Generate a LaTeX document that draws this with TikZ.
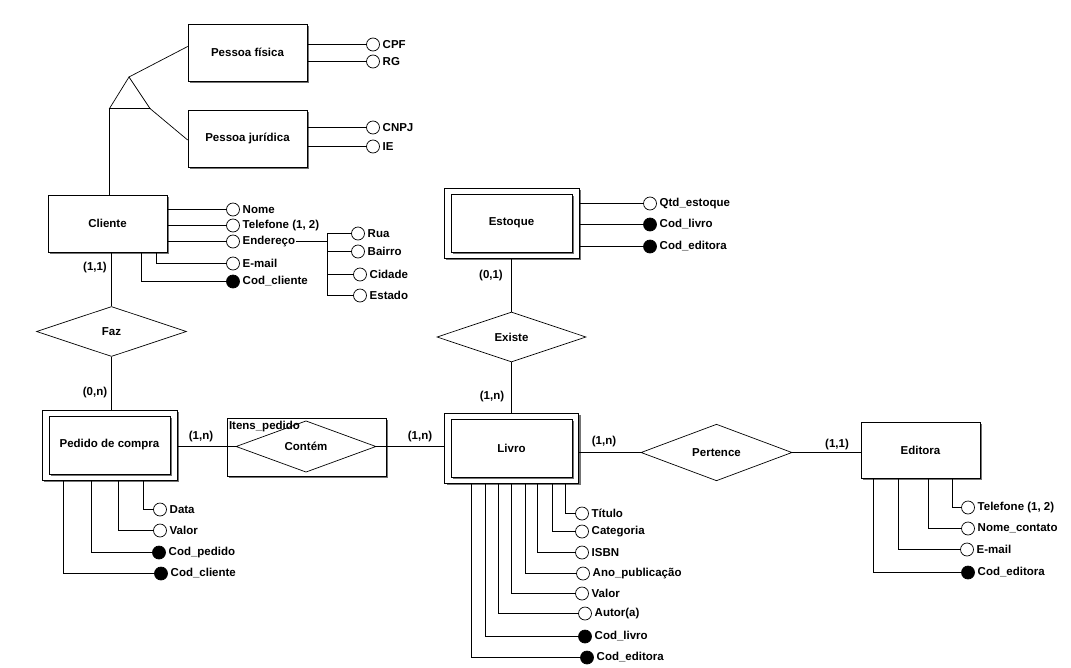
\documentclass[tikz,border=0pt]{standalone}
\usepackage{fontspec}
\setmainfont{Liberation Sans}
\usetikzlibrary{shapes.geometric,shadows}

\begin{document}
\begin{tikzpicture}[x=1pt,y=-1pt,line width=0.7pt]
\tikzstyle{every node}=[font=\fontsize{11.5}{13}\selectfont\bfseries, inner sep=1pt]
\tikzstyle{every label}=[label distance=1.5pt]
\tikzstyle{shade}=[general shadow={fill=black!55, shadow xshift=2pt, shadow yshift=-2pt}]
\tikzstyle{ent}=[draw, fill=white, shade, minimum width=119pt, minimum height=57pt]
\tikzstyle{weakout}=[draw, fill=white, shade, minimum width=135pt, minimum height=70pt]
\tikzstyle{weakin}=[draw, fill=white, shade, minimum width=121pt, minimum height=58pt]
\tikzstyle{rel}=[diamond, draw, fill=white, inner sep=0pt, minimum width=150pt, minimum height=50pt]
\tikzstyle{attr}=[circle, draw, fill=white, inner sep=0pt, minimum size=13pt]
\tikzstyle{key}=[attr, fill=black]
\useasboundingbox (0,0) rectangle (1071,667);

% entidades
\draw (247.5,52.5) node (pfis) [ent] {Pessoa física};
\draw (247.5,138.5) node (pjur) [ent] {Pessoa jurídica};
\draw (107.5,223.5) node (cliente) [ent] {Cliente};
\draw (920.5,450) node (editora) [ent, minimum height=56pt] {Editora};
\draw (109.5,445) node (pedido) [weakout] {};
\draw (pedido) node (pedidoin) [weakin] {Pedido de compra};
\draw (511.5,223) node (estoque) [weakout] {};
\draw (estoque) node (estoquein) [weakin] {Estoque};
\draw (511.5,448) node (livro) [weakout, minimum width=134pt] {};
\draw (livro) node (livroin) [weakin] {Livro};

% especializacao
\coordinate (apex) at (129,77);
\coordinate (baseL) at (109.5,108.5);
\coordinate (baseR) at (150,108.5);
\draw (apex) -- (baseL) -- (baseR) -- cycle;
\draw (apex) -- ([yshift=6pt]pfis.west);
\draw (baseR) -- ([yshift=-1.5pt]pjur.west);
\draw (baseL) -- (baseL |- cliente.north);

% relacionamentos
\draw (111.5,331.5) node (faz) [rel] {Faz};
\draw (511.5,337) node (existe) [rel, minimum width=149pt] {Existe};
\draw (716.5,452.5) node (pertence) [rel, minimum width=151pt] {Pertence};
\draw (306.5,447) node (itens) [draw, fill=white, shade, minimum width=159pt, minimum height=58pt] {};
\draw (306,446.5) node (contem) [rel, minimum width=140pt, minimum height=40pt] {Contém};
\draw ([xshift=1pt,yshift=-2pt]itens.north west) node (itenslbl) [anchor=north west] {Itens\_pedido};

\draw (cliente.south -| faz) -- (faz.north);
\draw (faz.south) -- (faz.south |- pedido.north);
\draw (pedido.east |- contem) -- (contem.west);
\draw (contem.east) -- (livro.west |- contem);
\draw (estoque.south) -- (existe.north);
\draw (existe.south) -- (existe.south |- livro.north);
\draw (livro.east |- pertence) -- (pertence.west);
\draw (pertence.east) -- (editora.west |- pertence);

% cardinalidades
\draw (95,268) node (c1) {(1,1)};
\draw (95,393) node (c2) {(0,n)};
\draw (201,437) node (c3) {(1,n)};
\draw (420,437) node (c4) {(1,n)};
\draw (491,276) node (c5) {(0,1)};
\draw (492,397) node (c6) {(1,n)};
\draw (604,442) node (c7) {(1,n)};
\draw (837,445) node (c8) {(1,1)};

% atributos
\draw (373,44.5) node (cpf) [attr, label=right:CPF] {};
\draw (373,61.5) node (rg) [attr, label=right:RG] {};
\draw (373,127.5) node (cnpj) [attr, label=right:CNPJ] {};
\draw (373,146.5) node (ie) [attr, label=right:IE] {};
\draw (pfis.east |- cpf) -- (cpf);
\draw (pfis.east |- rg) -- (rg);
\draw (pjur.east |- cnpj) -- (cnpj);
\draw (pjur.east |- ie) -- (ie);

\draw (233,209.5) node (nome) [attr, label=right:Nome] {};
\draw (233,225.5) node (tel) [attr, label=right:{Telefone (1, 2)}] {};
\draw (233,241.5) node (ender) [attr, label={[name=endertxt]right:Endereço}] {};
\draw (233,263.5) node (email) [attr, label=right:E-mail] {};
\draw (233,281.5) node (codcli) [key, label=right:Cod\_cliente] {};
\draw (cliente.east |- nome) -- (nome);
\draw (cliente.east |- tel) -- (tel);
\draw (cliente.east |- ender) -- (ender);
\draw ([xshift=48.5pt]cliente.south) |- (email);
\draw ([xshift=33.5pt]cliente.south) |- (codcli);

\coordinate (endbr) at (327.5,241.5);
\draw (358,233.5) node (rua) [attr, label=right:Rua] {};
\draw (358,251.5) node (bairro) [attr, label=right:Bairro] {};
\draw (360,274.5) node (cidade) [attr, label=right:Cidade] {};
\draw (360,295.5) node (estado) [attr, label=right:Estado] {};
\draw (endertxt.east) -- (endbr);
\draw (rua) -| (endbr |- estado) -- (estado);
\draw (bairro) -- (bairro -| endbr);
\draw (cidade) -- (cidade -| endbr);

\draw (160,509.5) node (data) [attr, label=right:Data] {};
\draw (160,530.5) node (valor) [attr, label=right:Valor] {};
\draw (159,552.5) node (codped) [key, label=right:Cod\_pedido] {};
\draw (161,573.5) node (pedcli) [key, label=right:Cod\_cliente] {};
\draw ([xshift=33.5pt]pedido.south) |- (data);
\draw ([xshift=8.5pt]pedido.south) |- (valor);
\draw ([xshift=-18.5pt]pedido.south) |- (codped);
\draw ([xshift=-46.5pt]pedido.south) |- (pedcli);

\draw (650,203.5) node (qtd) [attr, label=right:Qtd\_estoque] {};
\draw (650,224.5) node (estliv) [key, label=right:Cod\_livro] {};
\draw (650,246.5) node (estedi) [key, label=right:Cod\_editora] {};
\draw (estoque.east |- qtd) -- (qtd);
\draw (estoque.east |- estliv) -- (estliv);
\draw (estoque.east |- estedi) -- (estedi);

\draw (582,513.5) node (titulo) [attr, label=right:Título] {};
\draw (582,531.5) node (categ) [attr, label=right:Categoria] {};
\draw (582,552.5) node (isbn) [attr, label=right:ISBN] {};
\draw (583,573.5) node (ano) [attr, label=right:Ano\_publicação] {};
\draw (582,593.5) node (preco) [attr, label=right:Valor] {};
\draw (585,613.5) node (autor) [attr, label=right:Autor(a)] {};
\draw (585,636.5) node (codliv) [key, label=right:Cod\_livro] {};
\draw (587,657.5) node (livedi) [key, label=right:Cod\_editora] {};
\draw ([xshift=54pt]livro.south) |- (titulo);
\draw ([xshift=41pt]livro.south) |- (categ);
\draw ([xshift=26pt]livro.south) |- (isbn);
\draw ([xshift=14pt]livro.south) |- (ano);
\draw (livro.south) |- (preco);
\draw ([xshift=-13pt]livro.south) |- (autor);
\draw ([xshift=-26pt]livro.south) |- (codliv);
\draw ([xshift=-40pt]livro.south) |- (livedi);

\draw (968,507.5) node (edtel) [attr, label=right:{Telefone (1, 2)}] {};
\draw (968,528.5) node (contato) [attr, label=right:Nome\_contato] {};
\draw (967,549.5) node (edmail) [attr, label=right:E-mail] {};
\draw (968,572.5) node (codedi) [key, label=right:Cod\_editora] {};
\draw ([xshift=31.5pt]editora.south) |- (edtel);
\draw ([xshift=7.5pt]editora.south) |- (contato);
\draw ([xshift=-22.5pt]editora.south) |- (edmail);
\draw ([xshift=-47.5pt]editora.south) |- (codedi);
\end{tikzpicture}
\end{document}
